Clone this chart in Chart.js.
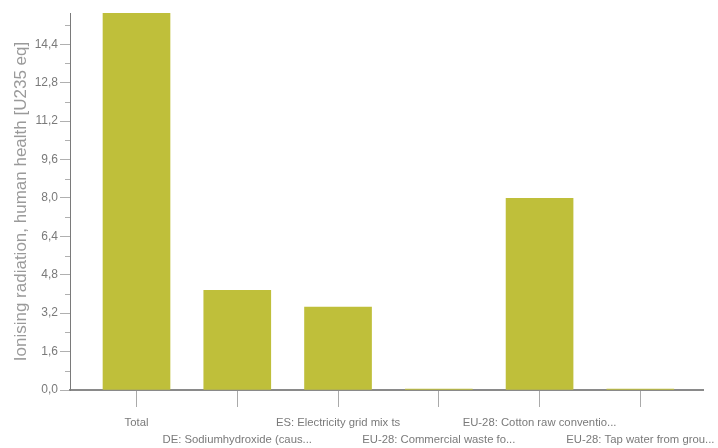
<!DOCTYPE html>
<html>
<head>
<meta charset="utf-8">
<script src="https://cdn.jsdelivr.net/npm/chart.js@4/dist/chart.umd.min.js"></script>
<style>
html,body{margin:0;padding:0;background:#fff;}
#wrap{width:718px;height:448px;}
</style>
</head>
<body>
<div id="wrap"><canvas id="c" width="718" height="448"></canvas></div>
<script>
const categories = [
  "Total",
  "DE: Sodiumhydroxide (caus...",
  "ES: Electricity grid mix ts",
  "EU-28: Commercial waste fo...",
  "EU-28: Cotton raw conventio...",
  "EU-28: Tap water from grou..."
];
const values = [15.7, 4.15, 3.45, 0.04, 7.98, 0.04];
const yMax = 15.7;
const yStep = 0.8;
const yTitle = "Ionising radiation, human health [U235 eq]";

const FONT = "'Liberation Sans', Arial, sans-serif";

const minorTicks = {
  id: 'minorTicks',
  afterDraw(chart) {
    const y = chart.scales.y;
    const ctx = chart.ctx;
    ctx.save();
    ctx.strokeStyle = '#b0b0b0';
    ctx.lineWidth = 1;
    y.ticks.forEach(t => {
      const k = Math.round(t.value / yStep);
      if (Math.abs(t.value - k * yStep) > 1e-6) return;
      if (k % 2 === 1) {
        const py = Math.round(y.getPixelForValue(t.value)) + 0.5;
        ctx.beginPath();
        ctx.moveTo(y.right - 5, py);
        ctx.lineTo(y.right, py);
        ctx.stroke();
      }
    });
    ctx.restore();
  }
};

new Chart(document.getElementById('c'), {
  type: 'bar',
  data: {
    datasets: [{
      data: values.map((v, i) => ({x: i, y: v})),
      backgroundColor: '#bfbf3a',
      borderWidth: 0,
      barThickness: 67
    }]
  },
  options: {
    responsive: false,
    animation: false,
    layout: {padding: {top: 13, right: 15, bottom: 0, left: 0}},
    plugins: {legend: {display: false}, tooltip: {enabled: false}},
    scales: {
      x: {
        type: 'linear',
        min: -0.66,
        max: 5.622,
        offset: false,
        afterBuildTicks(scale) {
          scale.ticks = categories.map((c, i) => ({value: i}));
        },
        afterFit(scale) {
          scale.height = 58;
          scale.paddingLeft = 0;
          scale.paddingRight = 0;
        },
        grid: {offset: false, drawOnChartArea: false, drawTicks: true, tickLength: 17, color: '#aaaaaa'},
        border: {display: true, color: '#8a8a8a', width: 2},
        ticks: {
          autoSkip: false,
          maxRotation: 0,
          minRotation: 0,
          includeBounds: false,
          padding: 7,
          color: '#7a7a7a',
          font: {family: FONT, size: 11.3, lineHeight: 1.5},
          callback(v) {
            const i = Math.round(v);
            if (i < 0 || i >= categories.length) return '';
            return i % 2 === 0 ? categories[i] : ['', categories[i]];
          }
        }
      },
      y: {
        min: 0,
        max: yMax,
        afterFit(scale) { scale.width = 70; },
        grid: {
          drawOnChartArea: false,
          drawTicks: true,
          tickLength: 10,
          color: '#b0b0b0',
          tickColor(ctx) {
            const v = ctx.tick ? ctx.tick.value : 0;
            const k = Math.round(v / yStep);
            if (Math.abs(v - k * yStep) > 1e-6 || k % 2 === 1) return 'rgba(0,0,0,0)';
            return '#b0b0b0';
          }
        },
        border: {display: true, color: '#7a7a7a', width: 1},
        ticks: {
          stepSize: yStep,
          includeBounds: false,
          padding: 2,
          color: '#7a7a7a',
          font: {family: FONT, size: 12},
          callback(v) {
            const k = Math.round(v / yStep);
            if (Math.abs(v - k * yStep) > 1e-6 || k % 2 === 1) return '';
            return (k * yStep).toFixed(1).replace('.', ',');
          }
        },
        title: {
          display: true,
          text: yTitle,
          color: '#9a9a9a',
          font: {family: FONT, size: 17},
          padding: {top: 11, bottom: 0}
        }
      }
    }
  },
  plugins: [minorTicks]
});
</script>
</body>
</html>
